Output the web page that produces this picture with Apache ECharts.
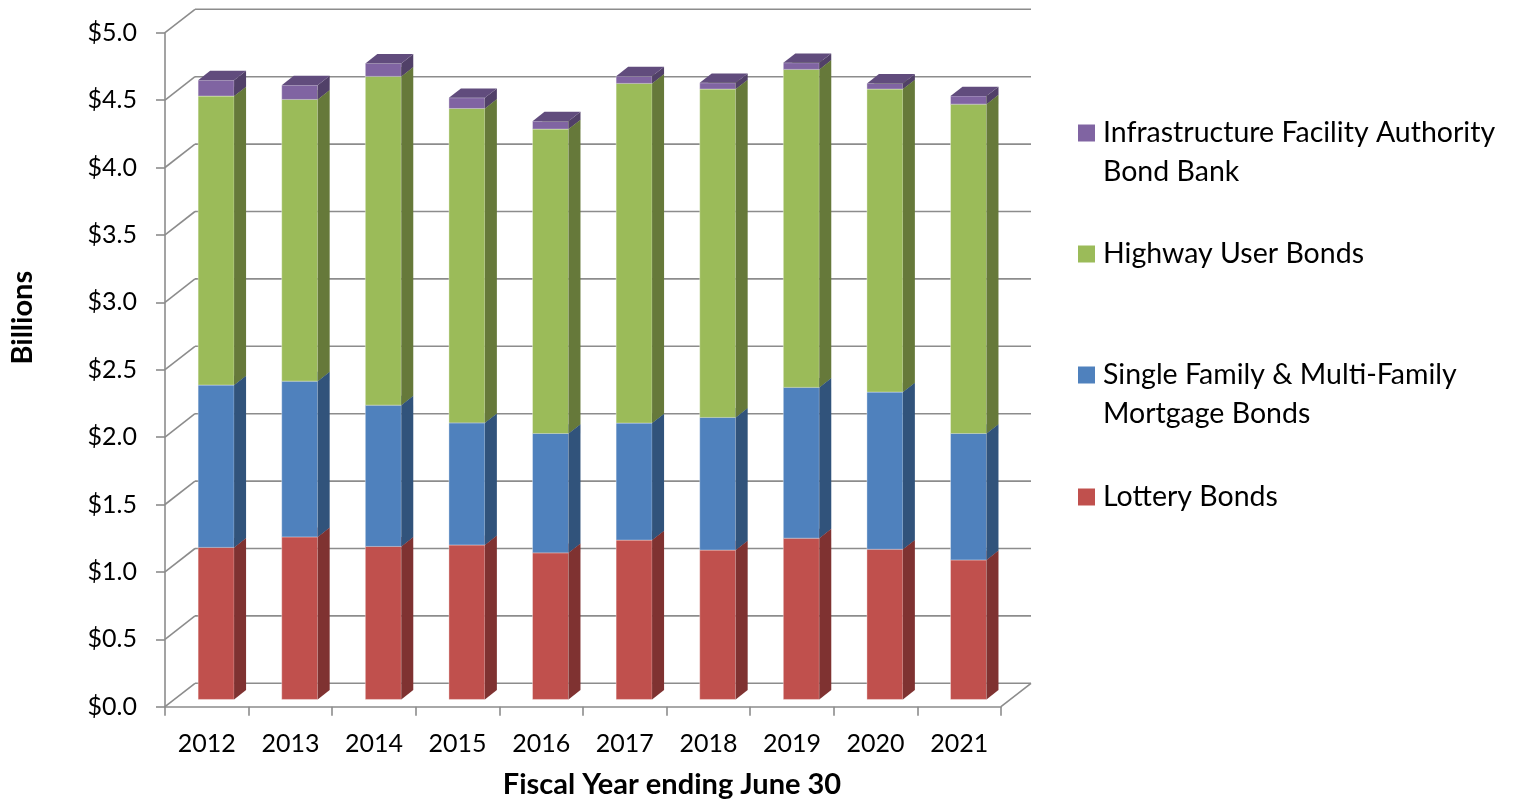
<!DOCTYPE html>
<html>
<head>
<meta charset="utf-8">
<script src="https://cdn.jsdelivr.net/npm/echarts@6/dist/echarts.min.js"></script>
<style>
html, body { margin: 0; padding: 0; background: #fff; }
#main { width: 1525px; height: 799px; }
</style>
</head>
<body>
<div id="main"></div>
<script>
// data, in billions
var years = ['2012', '2013', '2014', '2015', '2016', '2017', '2018', '2019', '2020', '2021'];
var lottery = [1.128, 1.206, 1.135, 1.146, 1.088, 1.182, 1.108, 1.196, 1.114, 1.035];
var mortgage = [1.204, 1.155, 1.048, 0.906, 0.885, 0.868, 0.984, 1.119, 1.166, 0.938];
var highway = [2.144, 2.090, 2.439, 2.332, 2.258, 2.520, 2.436, 2.359, 2.248, 2.443];
var bondBank = [0.118, 0.106, 0.096, 0.079, 0.059, 0.054, 0.046, 0.049, 0.042, 0.060];
var yTicks = [0, 0.5, 1, 1.5, 2, 2.5, 3, 3.5, 4, 4.5, 5];

var seriesNames = ['Lottery Bonds', 'Single Family & Multi-Family Mortgage Bonds', 'Highway User Bonds', 'Infrastructure Facility Authority Bond Bank'];
var legendText = {
    'Infrastructure Facility Authority Bond Bank': '\nInfrastructure Facility Authority\nBond Bank',
    'Highway User Bonds': 'Highway User Bonds',
    'Single Family & Multi-Family Mortgage Bonds': '\nSingle Family & Multi-Family\nMortgage Bonds',
    'Lottery Bonds': 'Lottery Bonds'
};

// 3d look: front / side / top colours
var shades = [
    { front: '#C0504D', side: '#7F3231', top: '#9C3F3D' },
    { front: '#4F81BD', side: '#31537B', top: '#3F6897' },
    { front: '#9BBB59', side: '#66793A', top: '#7D9747' },
    { front: '#8064A2', side: '#514068', top: '#614C7D' }
];

var FONT = 'Lato';
var GRID_COLOR = '#8c8c8c';
var DX = 30, DY = -23.4;      // full depth of the box
var F1 = 0.31, F2 = 0.71;     // bar front / back depth
var BAR_RATIO = 0.43;

// build stacked [index, low, high] rows
var layers = [lottery, mortgage, highway, bondBank];
var base = years.map(function () { return 0; });
var stacked = layers.map(function (arr) {
    return arr.map(function (v, i) {
        var row = [i, base[i], base[i] + v];
        base[i] += v;
        return row;
    });
});

function makeBarRenderer(shade) {
    return function (params, api) {
        var i = api.value(0), lo = api.value(1), hi = api.value(2);
        var band = api.size([1, 0])[0];
        var w = band * BAR_RATIO;
        var p0 = api.coord([i, lo]);
        var p1 = api.coord([i, hi]);
        var x0 = p0[0] - w / 2 + DX * F1;
        var x1 = x0 + w;
        var yb = p0[1] + DY * F1;
        var yt = p1[1] + DY * F1;
        var sx = DX * (F2 - F1), sy = DY * (F2 - F1);
        return {
            type: 'group',
            children: [
                { type: 'polygon', shape: { points: [[x0, yb], [x1, yb], [x1, yt], [x0, yt]] },
                  style: { fill: shade.front, stroke: 'rgba(255,255,255,0.35)', lineWidth: 1 } },
                { type: 'polygon', shape: { points: [[x1, yb], [x1 + sx, yb + sy], [x1 + sx, yt + sy], [x1, yt]] },
                  style: { fill: shade.side } },
                { type: 'polygon', shape: { points: [[x0, yt], [x1, yt], [x1 + sx, yt + sy], [x0 + sx, yt + sy]] },
                  style: { fill: shade.top } }
            ]
        };
    };
}

function renderWall(params, api) {
    var v = api.value(1);
    var band = api.size([1, 0])[0];
    var l = api.coord([0, v]); l = [l[0] - band / 2, l[1]];
    var r = api.coord([years.length - 1, v]); r = [r[0] + band / 2, r[1]];
    var style = { stroke: GRID_COLOR, lineWidth: 1.6 };
    var kids = [
        { type: 'line', shape: { x1: l[0], y1: l[1], x2: l[0] + DX, y2: l[1] + DY }, style: style },
        { type: 'line', shape: { x1: l[0] + DX, y1: l[1] + DY, x2: r[0] + DX, y2: r[1] + DY }, style: style }
    ];
    if (v === 0) {
        kids.push({ type: 'line', shape: { x1: r[0], y1: r[1], x2: r[0] + DX, y2: r[1] + DY }, style: style });
    }
    return { type: 'group', children: kids };
}

var myChart = echarts.init(document.getElementById('main'));

var series = [{
    type: 'custom',
    name: 'wall',
    z: 1,
    silent: true,
    renderItem: renderWall,
    encode: { x: 0, y: 1 },
    data: yTicks.map(function (v) { return [0, v]; })
}];
seriesNames.forEach(function (name, k) {
    series.push({
        type: 'custom',
        name: name,
        z: 2 + k,
        renderItem: makeBarRenderer(shades[k]),
        itemStyle: { color: shades[k].front },
        encode: { x: 0, y: [1, 2] },
        data: stacked[k]
    });
});

// one legend per entry so the icon sits on the first text line
var legendCenters = { 'Infrastructure Facility Authority Bond Bank': 132, 'Highway User Bonds': 253,
    'Single Family & Multi-Family Mortgage Bonds': 374, 'Lottery Bonds': 496 };
var legends = Object.keys(legendCenters).map(function (name) {
    var lines = legendText[name].split('\n').length;
    return {
        orient: 'vertical',
        left: 1078,
        top: legendCenters[name] - lines * 39 / 2 + 1,
        padding: 0,
        selectedMode: false,
        icon: 'rect',
        itemWidth: 17,
        itemHeight: 17,
        data: [name],
        formatter: function (n) { return legendText[n]; },
        textStyle: { fontFamily: FONT, fontSize: 28.5, lineHeight: 39, color: '#000', padding: [0, 0, 0, 3] }
    };
});

option = {
    animation: false,
    backgroundColor: '#fff',
    legend: legends,
    grid: { left: 165, top: 32.7, width: 836, height: 674, containLabel: false, outerBoundsMode: 'none' },
    xAxis: {
        type: 'category',
        data: years,
        boundaryGap: true,
        name: 'Fiscal Year ending June 30',
        nameLocation: 'middle',
        nameGap: 63,
        nameTextStyle: { fontFamily: FONT, fontSize: 29, fontWeight: 'bold', color: '#000', padding: [0, 0, 0, 178] },
        axisLine: { show: true, lineStyle: { color: GRID_COLOR, width: 1.6 } },
        axisTick: { show: true, length: 9, lineStyle: { color: GRID_COLOR, width: 1.6 } },
        axisLabel: { margin: 25, fontFamily: FONT, fontSize: 25, color: '#000' },
        splitLine: { show: false }
    },
    yAxis: {
        type: 'value',
        min: 0,
        max: 5,
        interval: 0.5,
        name: 'Billions',
        nameLocation: 'middle',
        nameGap: 128,
        nameTextStyle: { fontFamily: FONT, fontSize: 29, fontWeight: 'bold', color: '#000', padding: [0, 0, 0, 104] },
        axisLine: { show: true, lineStyle: { color: GRID_COLOR, width: 1.6 } },
        axisTick: { show: true, length: 9, lineStyle: { color: GRID_COLOR, width: 1.6 } },
        axisLabel: {
            margin: 28, fontFamily: FONT, fontSize: 25, color: '#000',
            formatter: function (v) { return '$' + v.toFixed(1); }
        },
        splitLine: { show: false }
    },
    series: series
};

myChart.setOption(option);
</script>
</body>
</html>
